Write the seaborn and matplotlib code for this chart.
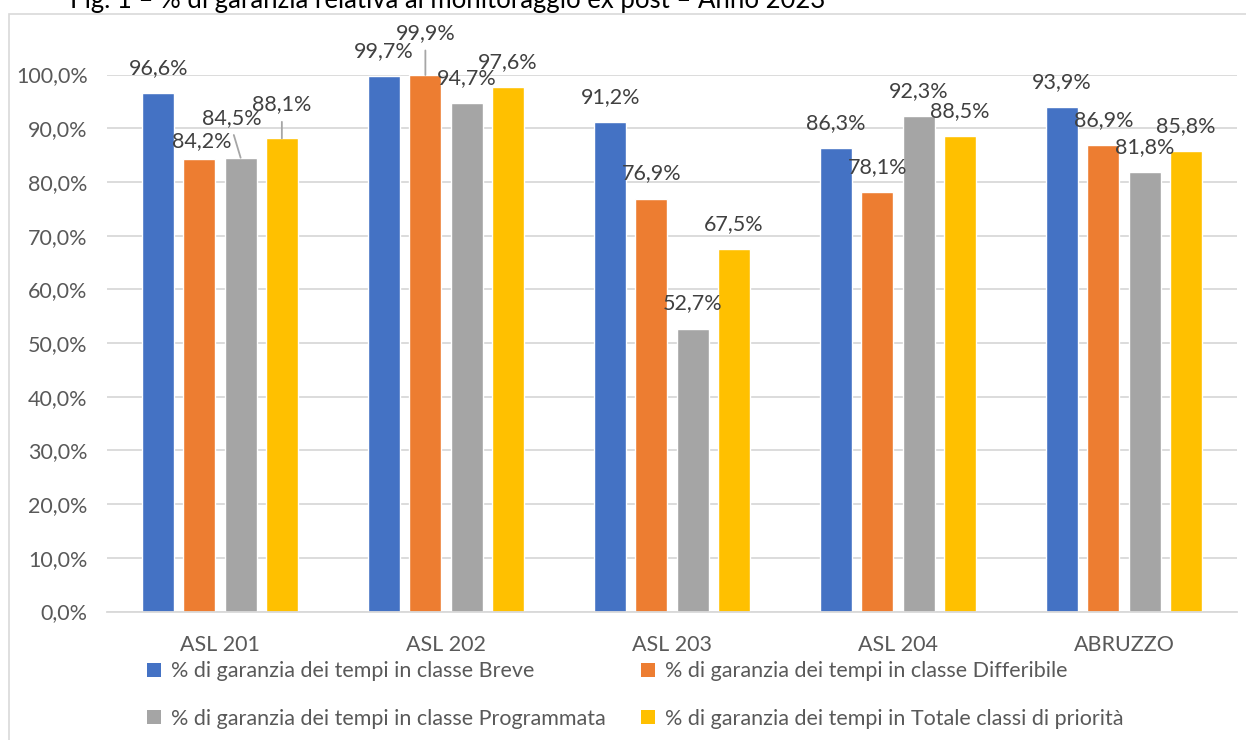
import matplotlib
matplotlib.use("Agg")
import matplotlib.pyplot as plt
import seaborn as sns
import pandas as pd
import numpy as np
from matplotlib.patches import Rectangle, Patch
from matplotlib.ticker import FuncFormatter, MultipleLocator

# ---------------- data ----------------
categories = ["ASL 201", "ASL 202", "ASL 203", "ASL 204", "ABRUZZO"]
series = [
    "% di garanzia dei tempi in classe Breve",
    "% di garanzia dei tempi in classe Differibile",
    "% di garanzia dei tempi in classe Programmata",
    "% di garanzia dei tempi in Totale classi di priorità",
]
breve = [96.6, 99.7, 91.2, 86.3, 93.9]
differibile = [84.2, 99.9, 76.9, 78.1, 86.9]
programmata = [84.5, 94.7, 52.7, 92.3, 81.8]
totale = [88.1, 97.6, 67.5, 88.5, 85.8]
title = "Fig. 1 – % di garanzia relativa al monitoraggio ex post – Anno 2023"

colors = ["#4472C4", "#ED7D31", "#A5A5A5", "#FFC000"]
text_color = "#595959"
grid_color = "#D9D9D9"

values = [breve, differibile, programmata, totale]
df = pd.DataFrame({
    "Categoria": categories * len(series),
    "Serie": np.repeat(series, len(categories)),
    "Valore": np.concatenate(values),
})

sns.set_theme(style="white")
plt.rcParams["font.family"] = ["Lato", "DejaVu Sans"]

W, H = 1246, 740
fig = plt.figure(figsize=(W / 100, H / 100), dpi=100)
ax = fig.add_axes([107 / W, 1 - 611.5 / H, 1130 / W, 537 / H])

sns.barplot(data=df, x="Categoria", y="Valore", hue="Serie", hue_order=series,
            order=categories, palette=colors, width=0.73, gap=0.224,
            saturation=1, errorbar=None, legend=False, ax=ax)

ax.set_ylim(0, 100)
ax.set_xlim(-0.5, len(categories) - 0.5)
ax.yaxis.set_major_locator(MultipleLocator(10))
ax.yaxis.set_major_formatter(FuncFormatter(lambda v, p: f"{v:.1f}%".replace(".", ",")))
ax.grid(axis="y", color=grid_color, lw=1.3)
ax.set_axisbelow(True)
for s in ["top", "right", "left"]:
    ax.spines[s].set_visible(False)
ax.spines["bottom"].set_color(grid_color)
ax.spines["bottom"].set_linewidth(1.3)
ax.tick_params(axis="y", length=0, pad=14, labelsize=15.5, labelcolor=text_color)
ax.tick_params(axis="x", length=0, pad=17, labelsize=15.5, labelcolor=text_color)
ax.set_xlabel("")
ax.set_ylabel("")

# data labels (offsets in pixels from bar top centre to label centre)
default_off = (0, 25, False)
overrides = {(0, 1): (2, 18, False), (0, 2): (-9, 40, True), (0, 3): (0, 34, True),
             (1, 1): (0, 42, True)}
for si, cont in enumerate(ax.containers):
    for ci, bar in enumerate(cont):
        v = values[si][ci]
        dx, dy, lead = overrides.get((ci, si), default_off)
        xc = bar.get_x() + bar.get_width() / 2
        kw = {}
        if lead:
            kw["arrowprops"] = dict(arrowstyle="-", color="#A6A6A6", lw=1.3,
                                    relpos=(0.5, 0), shrinkA=3, shrinkB=0)
        ax.annotate(f"{v:.1f}%".replace(".", ","), xy=(xc, bar.get_height()),
                    xytext=(dx, dy), textcoords="offset pixels",
                    ha="center", va="center", fontsize=15.5, color="#404040",
                    annotation_clip=False, **kw)

# legend
handles = [Patch(facecolor=c, edgecolor="none") for c in colors]
order = [0, 2, 1, 3]
fig.legend([handles[i] for i in order], [series[i] for i in order], ncol=2,
           loc="upper left", bbox_to_anchor=(128 / W, 1 - 642 / H),
           frameon=False, fontsize=15.5, labelcolor=text_color,
           handlelength=0.65, handleheight=0.65, handletextpad=0.45,
           labelspacing=1.27, columnspacing=1.63)

# chart frame
fig.patches.append(Rectangle((9 / W, -0.05), 1.2, 1.05 - 14 / H,
                             transform=fig.transFigure, fill=False,
                             edgecolor=grid_color, lw=1.2))

# title (cut off at the top, as in the reference)
fig.text(70 / W, 1 - 8 / H, title, ha="left", va="baseline", fontsize=18.5,
         color="#000000")

fig.savefig("out.png", dpi=100)
